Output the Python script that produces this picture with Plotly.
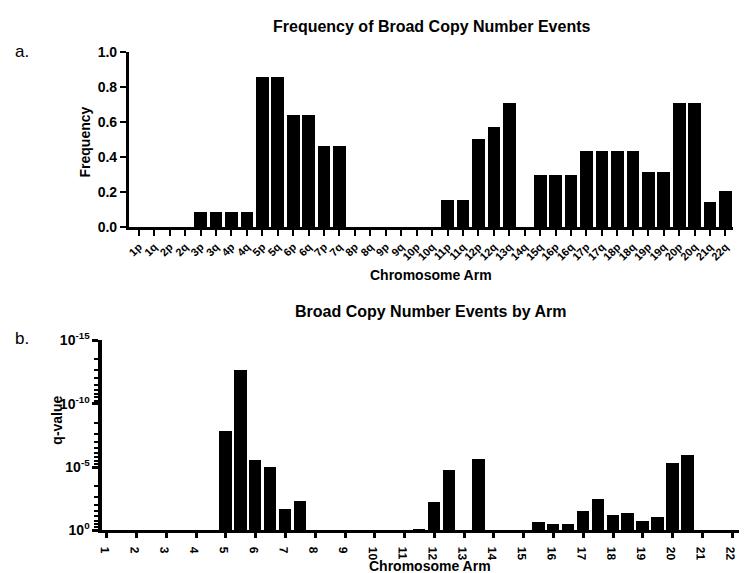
"""Broad copy number events: frequency per arm and q-value per arm."""

import numpy as np
import plotly.graph_objects as go

# chromosome arms (acrocentric p arms left out)
arms = ['1p', '1q', '2p', '2q', '3p', '3q', '4p', '4q', '5p', '5q',
        '6p', '6q', '7p', '7q', '8p', '8q', '9p', '9q', '10p', '10q',
        '11p', '11q', '12p', '12q', '13q', '14q', '15q', '16p', '16q',
        '17p', '17q', '18p', '18q', '19p', '19q', '20p', '20q', '21q', '22q']

frequency = [0, 0, 0, 0, 0.088, 0.088, 0.088, 0.088, 0.858, 0.858,
             0.641, 0.641, 0.464, 0.464, 0, 0, 0, 0, 0, 0,
             0.158, 0.158, 0.503, 0.571, 0.709, 0, 0.297, 0.297, 0.297,
             0.436, 0.436, 0.436, 0.436, 0.315, 0.315, 0.709, 0.709, 0.147, 0.208]

q_values = [1, 1, 1, 1, 1, 1, 1, 1, 1.6e-8, 2.5e-13,
            2.7e-6, 1.1e-5, 2.0e-2, 4.6e-3, 1, 1, 1, 1, 1, 1,
            1, 0.8, 5.8e-3, 1.7e-5, 2.4e-6, 1, 0.23, 0.30, 0.35,
            3.2e-2, 3.4e-3, 6.5e-2, 4.6e-2, 0.19, 0.10, 4.9e-6, 1.1e-6, 1, 0.83]

chrom_ticks = list(range(1, 23))

FONT = 'Liberation Sans, Arial, sans-serif'
W, H = 747, 573

# arm position on the numeric chromosome axis: p at n, q at n + 0.5
arm_pos = [int(a[:-1]) + (0.5 if a.endswith('q') else 0) for a in arms]
neg_log_q = [-np.log10(q) for q in q_values]

fig = go.Figure()

fig.add_trace(go.Bar(
    x=arms, y=frequency, width=0.82,
    marker=dict(color='black', line=dict(width=0)),
    xaxis='x', yaxis='y', showlegend=False,
))

fig.add_trace(go.Bar(
    x=arm_pos, y=neg_log_q, width=0.42,
    marker=dict(color='black', line=dict(width=0)),
    xaxis='x2', yaxis='y2', showlegend=False,
))

# minor ticks of the q-value axis (GraphPad style, per 5-decade step)
minor_vals = [5 * n + 5 - 5 * np.log10(k) for n in range(3) for k in range(2, 10)]

axis_common = dict(showline=True, linecolor='black', showgrid=False,
                   zeroline=False, ticks='outside', tickcolor='black')

fig.update_layout(
    width=W, height=H,
    margin=dict(l=0, r=0, t=0, b=0),
    paper_bgcolor='white', plot_bgcolor='white',
    font=dict(family=FONT, color='black'),
    bargap=0,
    xaxis=dict(
        **axis_common, domain=[116.7 / W, 725 / W], anchor='y',
        type='category', range=[-0.64, 38.5],
        linewidth=3, tickwidth=2, ticklen=6,
        tickangle=-45,
        tickfont=dict(size=11, weight='bold'),
    ),
    yaxis=dict(
        **axis_common, domain=[1 - 216 / H, 1 - 35 / H], anchor='x',
        range=[0, 1], dtick=0.2, tickformat='.1f',
        linewidth=3, tickwidth=2, ticklen=6,
        tickfont=dict(size=14, weight='bold'),
    ),
    xaxis2=dict(
        **axis_common, domain=[90 / W, 1.0], anchor='y2',
        range=[0.857, 22.76], tickvals=chrom_ticks,
        linewidth=3, tickwidth=3, ticklen=5,
        tickangle=89.9,
        tickfont=dict(size=12, weight='bold'),
    ),
    yaxis2=dict(
        **axis_common, domain=[1 - 529 / H, 1 - 332.7 / H], anchor='x2',
        range=[0, 15], tickvals=[0, 5, 10, 15],
        ticktext=['10<sup>0</sup>', '10<sup>-5</sup>', '10<sup>-10</sup>', '10<sup>-15</sup>'],
        linewidth=4, tickwidth=3, ticklen=6,
        tickfont=dict(size=14, weight='bold'),
        minor=dict(tickvals=minor_vals, ticks='outside', ticklen=4,
                   tickwidth=2, tickcolor='black'),
    ),
)

notes = [
    dict(text='Frequency of Broad Copy Number Events', x=421, y=9, size=16, bold=True),
    dict(text='Chromosome Arm', x=421, y=265, size=14, bold=True),
    dict(text='Broad Copy Number Events by Arm', x=420, y=303, size=16, bold=True),
    dict(text='Chromosome Arm', x=420, y=566, size=14, bold=True),
    dict(text='a.', x=9, y=35, size=17, bold=False),
    dict(text='b.', x=9, y=331, size=17, bold=False),
]
for n in notes:
    fig.add_annotation(
        text=n['text'], xref='paper', yref='paper',
        x=n['x'] / W, y=1 - n['y'] / H, showarrow=False,
        xanchor='center', yanchor='middle',
        font=dict(size=n['size'], weight='bold' if n['bold'] else 'normal'),
    )

fig.add_annotation(text='Frequency', xref='paper', yref='paper',
                   x=72 / W, y=1 - 128 / H, showarrow=False, textangle=-90,
                   xanchor='center', yanchor='middle',
                   font=dict(size=14, weight='bold'))
fig.add_annotation(text='q-value', xref='paper', yref='paper',
                   x=44 / W, y=1 - 415 / H, showarrow=False, textangle=-90,
                   xanchor='center', yanchor='middle',
                   font=dict(size=14, weight='bold'))

fig.write_html("out.html")
